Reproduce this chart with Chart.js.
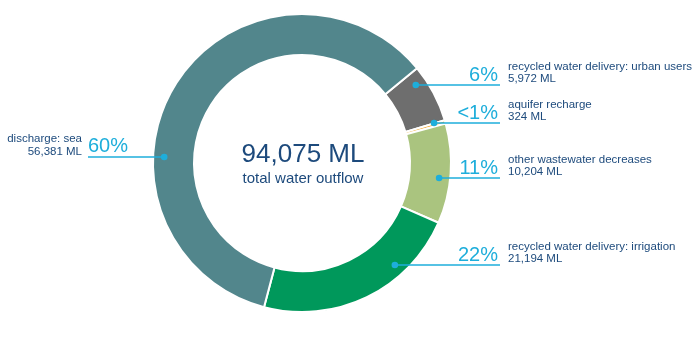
<!DOCTYPE html>
<html>
<head>
<meta charset="utf-8">
<script src="https://cdn.jsdelivr.net/npm/chart.js@4"></script>
<style>
  html, body { margin: 0; padding: 0; background: #fff; }
  #wrap { width: 700px; height: 339px; position: relative; }
</style>
</head>
<body>
<div id="wrap"><canvas id="outflowChart"></canvas></div>
<script>
const categories = [
  'recycled water delivery: urban users',
  'aquifer recharge',
  'other wastewater decreases',
  'recycled water delivery: irrigation',
  'discharge: sea'
];
const volumesML = [5972, 324, 10204, 21194, 56381];
const pctLabels = ['6%', '<1%', '11%', '22%', '60%'];
const sliceColours = ['#6e6e6e', '#f2a52c', '#aac47f', '#00985b', '#52868c'];

// where each callout line sits, and which side of the ring it goes
const calloutY = [85, 123, 178, 265, 157];
const calloutSide = ['right', 'right', 'right', 'right', 'left'];

const NAVY = '#1d4a7c';
const CYAN = '#1eaedb';
const FONT = '"Liberation Sans", Arial, sans-serif';

const total = volumesML.reduce((a, b) => a + b, 0);
const fmt = n => n.toLocaleString('en-US');

const callouts = {
  id: 'callouts',
  afterDraw(chart) {
    const ctx = chart.ctx;
    const arc = chart.getDatasetMeta(0).data[0];
    const cx = arc.x, cy = arc.y;
    const r = arc.innerRadius + (arc.outerRadius - arc.innerRadius) * 0.73;

    ctx.save();
    // centre total
    ctx.fillStyle = NAVY;
    ctx.textAlign = 'center';
    ctx.textBaseline = 'alphabetic';
    ctx.font = '26px ' + FONT;
    ctx.fillText(fmt(total) + ' ML', cx + 1, cy - 1);
    ctx.font = '15px ' + FONT;
    ctx.fillText('total water outflow', cx + 1, cy + 20);

    categories.forEach((name, i) => {
      const y = calloutY[i];
      const dy = y - cy;
      const dx = Math.sqrt(Math.max(r * r - dy * dy, 0));
      const right = calloutSide[i] === 'right';
      const dotX = right ? cx + dx : cx - dx;
      const endX = right ? 500 : 88;

      ctx.strokeStyle = CYAN;
      ctx.lineWidth = 1.6;
      ctx.beginPath();
      ctx.moveTo(dotX, y);
      ctx.lineTo(endX, y);
      ctx.stroke();
      ctx.fillStyle = CYAN;
      ctx.beginPath();
      ctx.arc(dotX, y, 3.3, 0, Math.PI * 2);
      ctx.fill();

      ctx.font = '20px ' + FONT;
      if (right) {
        ctx.textAlign = 'right';
        ctx.fillText(pctLabels[i], 498, y - 4);
        ctx.textAlign = 'left';
        ctx.fillStyle = NAVY;
        ctx.font = '11.5px ' + FONT;
        ctx.fillText(name, 508, y - 15);
        ctx.fillText(fmt(volumesML[i]) + ' ML', 508, y - 3);
      } else {
        ctx.textAlign = 'left';
        ctx.fillText(pctLabels[i], 88, y - 5);
        ctx.textAlign = 'right';
        ctx.fillStyle = NAVY;
        ctx.font = '11.5px ' + FONT;
        ctx.fillText(name, 82, y - 15);
        ctx.fillText(fmt(volumesML[i]) + ' ML', 82, y - 2);
      }
    });
    ctx.restore();
  }
};

new Chart(document.getElementById('outflowChart'), {
  type: 'doughnut',
  data: {
    labels: categories,
    datasets: [{
      data: volumesML,
      backgroundColor: sliceColours,
      borderColor: '#ffffff',
      borderWidth: 2,
      hoverOffset: 0
    }]
  },
  options: {
    responsive: true,
    maintainAspectRatio: false,
    animation: false,
    rotation: 50.5,
    cutout: '72.5%',
    layout: { padding: { top: 13, bottom: 26, left: 152, right: 248 } },
    plugins: {
      legend: { display: false },
      tooltip: { enabled: false }
    }
  },
  plugins: [callouts]
});
</script>
</body>
</html>
